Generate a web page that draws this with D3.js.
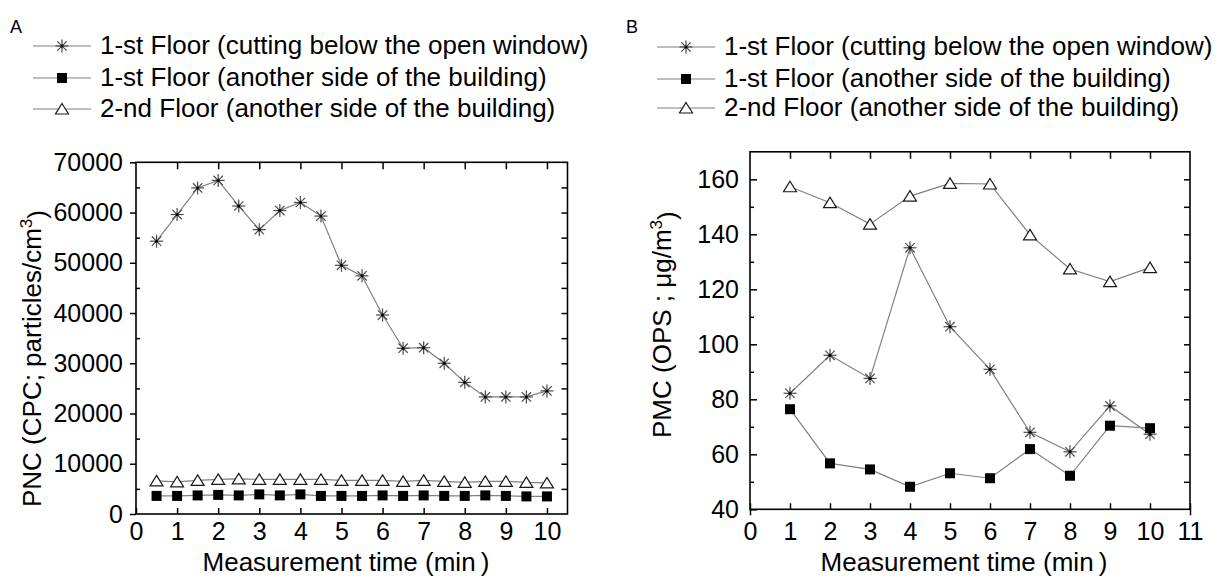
<!DOCTYPE html>
<html>
<head>
<meta charset="utf-8">
<script src="https://cdn.jsdelivr.net/npm/d3@7"></script>
<style>
  body { margin: 0; background: #fff; }
  svg { display: block; font-family: "Liberation Sans", Arial, sans-serif; }
</style>
</head>
<body>
<svg id="chart" width="1225" height="579"></svg>
<script>
// ---- data ----
const seriesNames = [
  "1-st Floor (cutting below the open window)",
  "1-st Floor (another side of the building)",
  "2-nd Floor (another side of the building)"
];

// Panel A: PNC, every 0.5 min
const timeA = [0.5, 1, 1.5, 2, 2.5, 3, 3.5, 4, 4.5, 5, 5.5, 6, 6.5, 7, 7.5, 8, 8.5, 9, 9.5, 10];
const pncWindow = [54300, 59600, 64900, 66400, 61300, 56600, 60400, 62000, 59300, 49500,
                   47400, 39600, 33000, 33100, 30000, 26200, 23300, 23300, 23300, 24500];
const pncFirst  = [3600, 3600, 3700, 3800, 3700, 3900, 3700, 3900, 3600, 3600,
                   3600, 3700, 3600, 3700, 3600, 3600, 3700, 3600, 3500, 3500];
const pncSecond = [6600, 6400, 6700, 6900, 7000, 6900, 6900, 6900, 6900, 6700,
                   6700, 6700, 6500, 6700, 6500, 6300, 6500, 6500, 6300, 6200];
const ticksXA = [0, 1, 2, 3, 4, 5, 6, 7, 8, 9, 10];
const ticksYA = [0, 10000, 20000, 30000, 40000, 50000, 60000, 70000];

// Panel B: PMC, every 1 min
const timeB = [1, 2, 3, 4, 5, 6, 7, 8, 9, 10];
const pmcWindow = [82.2, 96, 87.6, 135.1, 106.4, 90.9, 68, 60.9, 77.6, 67.3];
const pmcFirst  = [76.4, 56.7, 54.5, 48.2, 53.1, 51.3, 61.9, 52.2, 70.4, 69.5];
const pmcSecond = [157.3, 151.5, 143.7, 153.9, 158.5, 158.3, 139.8, 127.4, 122.8, 127.9];
const ticksXB = [0, 1, 2, 3, 4, 5, 6, 7, 8, 9, 10, 11];
const ticksYB = [40, 60, 80, 100, 120, 140, 160];

const svg = d3.select("#chart");
const lineColor = "#808080";
const tickFs = 25, titleFs = 26, legendFs = 26;

// marker drawing
function drawMarker(g, kind, cx, cy) {
  if (kind === "star") {
    const r = 6.5;
    [[0, 1], [1, 0], [0.72, 0.72], [0.72, -0.72]].forEach(([dx, dy]) => {
      g.append("line")
        .attr("x1", cx - dx * r).attr("y1", cy - dy * r)
        .attr("x2", cx + dx * r).attr("y2", cy + dy * r)
        .attr("stroke", "#4a4a4a").attr("stroke-width", 1.2);
    });
    g.append("circle").attr("cx", cx).attr("cy", cy).attr("r", 1.5).attr("fill", "#000");
  } else if (kind === "square") {
    g.append("rect").attr("x", cx - 5).attr("y", cy - 5)
      .attr("width", 10).attr("height", 10).attr("fill", "#000");
  } else {
    g.append("path")
      .attr("d", `M${cx},${cy - 5.5}L${cx + 6.5},${cy + 5}L${cx - 6.5},${cy + 5}Z`)
      .attr("fill", "#fff").attr("stroke", "#1a1a1a").attr("stroke-width", 1.2);
  }
}
const kinds = ["star", "square", "triangle"];

function drawLegend(letter, lx, lineX0, rows) {
  svg.append("text").attr("x", lx).attr("y", 33)
    .style("font-size", "18px").text(letter);
  seriesNames.forEach((name, i) => {
    const y = rows[i];
    const g = svg.append("g");
    g.append("line").attr("x1", lineX0).attr("x2", lineX0 + 58)
      .attr("y1", y).attr("y2", y).attr("stroke", lineColor).attr("stroke-width", 1.2);
    drawMarker(g, kinds[i], lineX0 + 29, y);
    g.append("text").attr("x", lineX0 + 67).attr("y", y + 7.5)
      .style("font-size", legendFs + "px").text(name);
  });
}

function drawPanel(opt) {
  const { x, y, xTicks, yTicks, yMinor, rightStep, xs, series, ylab } = opt;
  const g = svg.append("g");
  const [x0, x1] = x.range();
  const [y0, y1] = y.range();

  // series lines and markers
  series.forEach(vals => {
    const pts = xs.map((t, j) => [t, vals[j]]);
    g.append("path").datum(pts)
      .attr("fill", "none").attr("stroke", lineColor).attr("stroke-width", 1.2)
      .attr("d", d3.line().x(d => x(d[0])).y(d => y(d[1])));
  });
  series.forEach((vals, i) => {
    xs.forEach((t, j) => drawMarker(g, kinds[i], x(t), y(vals[j])));
  });

  // bottom axis
  const bottom = g.append("g").attr("transform", `translate(0,${y0})`)
    .call(d3.axisBottom(x).tickValues(xTicks).tickSize(-6).tickPadding(opt.xPad).tickFormat(d3.format("d")));
  bottom.select(".domain").remove();
  bottom.selectAll("text").style("font-size", tickFs + "px").attr("font-family", null);
  if (opt.endStubs) {
    bottom.selectAll(".tick").filter(d => d === xTicks[0] || d === xTicks[xTicks.length - 1])
      .select("line").attr("y1", 6);
  }
  // top ticks (integers, no 0)
  const top = g.append("g").attr("transform", `translate(0,${y1})`)
    .call(d3.axisTop(x).tickValues(xTicks.filter(d => d > 0 && x(d) < x1 - 2)).tickSize(-7).tickFormat(""));
  top.select(".domain").remove();

  // left axis
  const left = g.append("g").attr("transform", `translate(${x0},0)`)
    .call(d3.axisLeft(y).tickValues(yTicks).tickSize(opt.leftOut ? 6 : -7).tickPadding(opt.yPad).tickFormat(d3.format("d")));
  left.select(".domain").remove();
  left.selectAll("text").style("font-size", tickFs + "px").attr("font-family", null);
  const leftMinor = g.append("g").attr("transform", `translate(${x0},0)`)
    .call(d3.axisLeft(y).tickValues(yMinor).tickSize(-4).tickFormat(""));
  leftMinor.select(".domain").remove();

  // right ticks
  const rv = d3.range(y.domain()[0] + rightStep, y.domain()[1], rightStep);
  const right = g.append("g").attr("transform", `translate(${x1},0)`)
    .call(d3.axisRight(y).tickValues(rv).tickSize(-6).tickFormat(""));
  right.select(".domain").remove();

  g.selectAll(".tick line").attr("stroke", "#000").attr("stroke-width", 1.5);

  // frame
  g.append("rect").attr("x", x0).attr("y", y1).attr("width", x1 - x0).attr("height", y0 - y1)
    .attr("fill", "none").attr("stroke", "#000").attr("stroke-width", 1.6);

  // axis titles
  g.append("text").attr("x", opt.xlabCx).attr("y", 571)
    .attr("text-anchor", "middle").style("font-size", titleFs + "px")
    .text("Measurement time (min\u2009)");
  const yl = g.append("text")
    .attr("transform", `translate(${opt.ylabX},${opt.ylabY}) rotate(-90)`)
    .style("font-size", titleFs + "px");
  yl.append("tspan").text(ylab[0]);
  yl.append("tspan").attr("dy", "-0.55em").style("font-size", "17px").text("3");
  yl.append("tspan").attr("dy", "0.55em").text(")");
}

// ---- panel A ----
drawLegend("A", 10, 33, [46, 78, 109]);
drawPanel({
  x: d3.scaleLinear().domain([0, 10.5]).range([136, 567.5]),
  y: d3.scaleLinear().domain([0, 70000]).range([514, 162.3]),
  xTicks: ticksXA, yTicks: ticksYA,
  yMinor: ticksYA.slice(0, -1).map(d => d + 5000),
  rightStep: 5000, xs: timeA,
  series: [pncWindow, pncFirst, pncSecond],
  leftOut: true, xPad: 8, yPad: 7, endStubs: false,
  ylab: ["PNC (CPC; particles/cm"],
  ylabX: 41, ylabY: 507, xlabCx: 346
});

// ---- panel B ----
drawLegend("B", 626, 657, [47, 79, 108]);
drawPanel({
  x: d3.scaleLinear().domain([0, 11]).range([750, 1190]),
  y: d3.scaleLinear().domain([40, 170]).range([509.3, 151.8]),
  xTicks: ticksXB, yTicks: ticksYB,
  yMinor: ticksYB.map(d => d + 10).filter(d => d < 170),
  rightStep: 10, xs: timeB,
  series: [pmcWindow, pmcFirst, pmcSecond],
  leftOut: false, xPad: 13, yPad: 11, endStubs: true,
  ylab: ["PMC (OPS ; \u03bcg/m"],
  ylabX: 671, ylabY: 438, xlabCx: 964
});
</script>
</body>
</html>
